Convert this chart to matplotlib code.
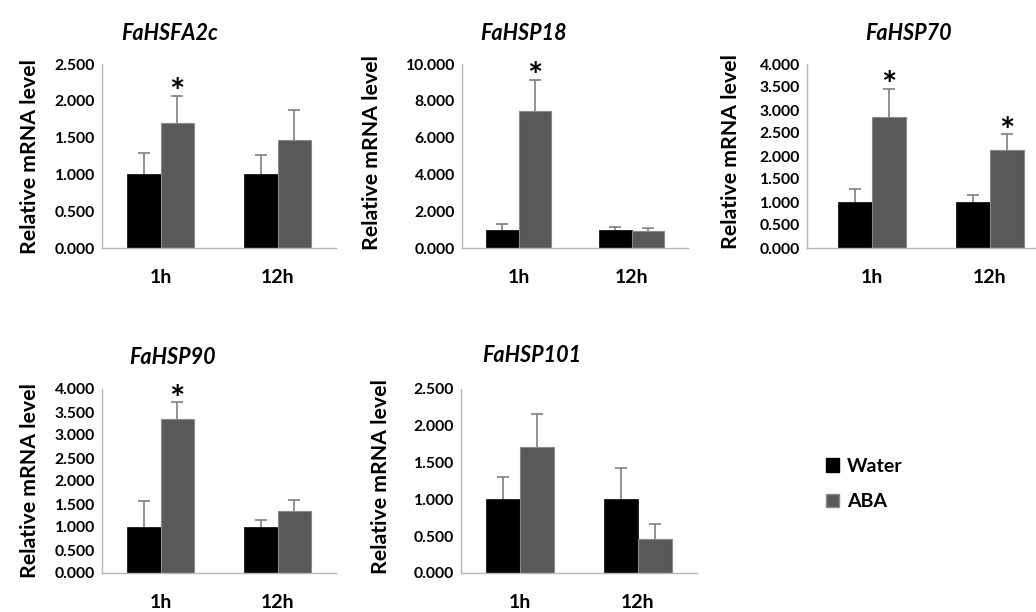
import matplotlib
matplotlib.use("Agg")
import matplotlib.pyplot as plt
from matplotlib.patches import Patch
import numpy as np

plt.rcParams['font.family'] = ['Lato', 'DejaVu Sans']
plt.rcParams['font.weight'] = 'bold'

times = ["1h", "12h"]
genes = ["FaHSFA2c", "FaHSP18", "FaHSP70", "FaHSP90", "FaHSP101"]
water_vals = [[1.00, 1.00], [1.00, 1.00], [1.00, 1.00], [1.01, 1.01], [1.00, 1.00]]
water_err = [[0.29, 0.27], [0.30, 0.12], [0.28, 0.16], [0.55, 0.14], [0.31, 0.42]]
aba_vals = [[1.70, 1.47], [7.46, 0.92], [2.85, 2.14], [3.35, 1.355], [1.71, 0.46]]
aba_err = [[0.37, 0.40], [1.69, 0.15], [0.61, 0.34], [0.36, 0.225], [0.45, 0.20]]
signif = [[True, False], [True, False], [True, True], [True, False], [False, False]]
ymax = [2.5, 10.0, 4.0, 4.0, 2.5]
ystep = [0.5, 2.0, 0.5, 0.5, 0.5]

W, H = 1036, 612
fig = plt.figure(figsize=(W / 100, H / 100), dpi=100)

# axes layout in pixels: left, top, bottom, px per category unit, xlim left
layout = [
    (102, 64, 248, 117, -0.5),
    (462, 64, 248, 113, -0.5),
    (807, 64, 248, 118, -0.55),
    (102, 389, 573, 117, -0.5),
    (461, 389, 573, 118, -0.5),
]
titles_pos = [(170, 33), (523, 33), (908, 33), (172, 357), (532, 355)]
ylab_pos = [(30, 157), (372, 153), (731, 152), (30, 481), (381, 477)]

c_water = "#000000"
c_aba = "#595959"
bw = 0.285
x = np.arange(len(times))


def up_errorbar(ax, xs, vals, errs):
    cont = ax.errorbar(xs, vals, yerr=[np.zeros(len(vals)), errs], fmt='none',
                       ecolor="#7f7f7f", elinewidth=1.2, capsize=4, capthick=1.2, zorder=3)
    for cl in cont[1]:
        if np.allclose(cl.get_ydata(), vals):
            cl.set_visible(False)


for i, g in enumerate(genes):
    left, top, bottom, unit, xl = layout[i]
    width_px = unit * 2.0
    ax = fig.add_axes([left / W, 1 - bottom / H, width_px / W, (bottom - top) / H])
    ax.bar(x - bw / 2, water_vals[i], bw, color=c_water, edgecolor=c_water, linewidth=0.5, zorder=2)
    ax.bar(x + bw / 2, aba_vals[i], bw, color=c_aba, edgecolor="#8a8a8a", linewidth=0.8, zorder=2)
    up_errorbar(ax, x - bw / 2, water_vals[i], water_err[i])
    up_errorbar(ax, x + bw / 2, aba_vals[i], aba_err[i])
    for j in range(len(times)):
        if signif[i][j]:
            ax.annotate("*", (x[j] + bw / 2, aba_vals[i][j] + aba_err[i][j]),
                        xytext=(0, -10.5), textcoords="offset points",
                        ha="center", va="bottom", fontsize=26, fontweight="bold")
    ax.set_xlim(xl, xl + 2.0)
    ax.set_ylim(0, ymax[i])
    ticks = np.arange(0, ymax[i] + 1e-9, ystep[i])
    ax.set_yticks(ticks)
    ax.set_yticklabels([f"{v:.3f}" for v in ticks], fontsize=11.3, fontweight="bold")
    ax.set_xticks(x)
    ax.set_xticklabels(times, fontsize=14, fontweight="bold")
    ax.tick_params(axis="y", length=0, pad=5)
    ax.tick_params(axis="x", length=0, pad=15)
    for s in ["top", "right"]:
        ax.spines[s].set_visible(False)
    for s in ["left", "bottom"]:
        ax.spines[s].set_color("#b5b5b5")
        ax.spines[s].set_linewidth(1.0)
    tx, ty = titles_pos[i]
    fig.text(tx / W, 1 - ty / H, g, ha="center", va="center", fontsize=15.5,
             fontweight="bold", fontstyle="italic")
    lx, ly = ylab_pos[i]
    fig.text(lx / W, 1 - ly / H, "Relative mRNA level", ha="center", va="center",
             rotation=90, fontsize=15.3, fontweight="bold")

handles = [Patch(facecolor=c_water, edgecolor=c_water), Patch(facecolor=c_aba, edgecolor="#8a8a8a")]
fig.legend(handles, ["Water", "ABA"], loc="center left",
           bbox_to_anchor=(808 / W, 1 - 484 / H), frameon=False,
           handlelength=0.7, handleheight=0.7, handletextpad=0.4, labelspacing=0.95,
           prop={"size": 14, "weight": "bold"})

fig.savefig("out.png", dpi=100)
